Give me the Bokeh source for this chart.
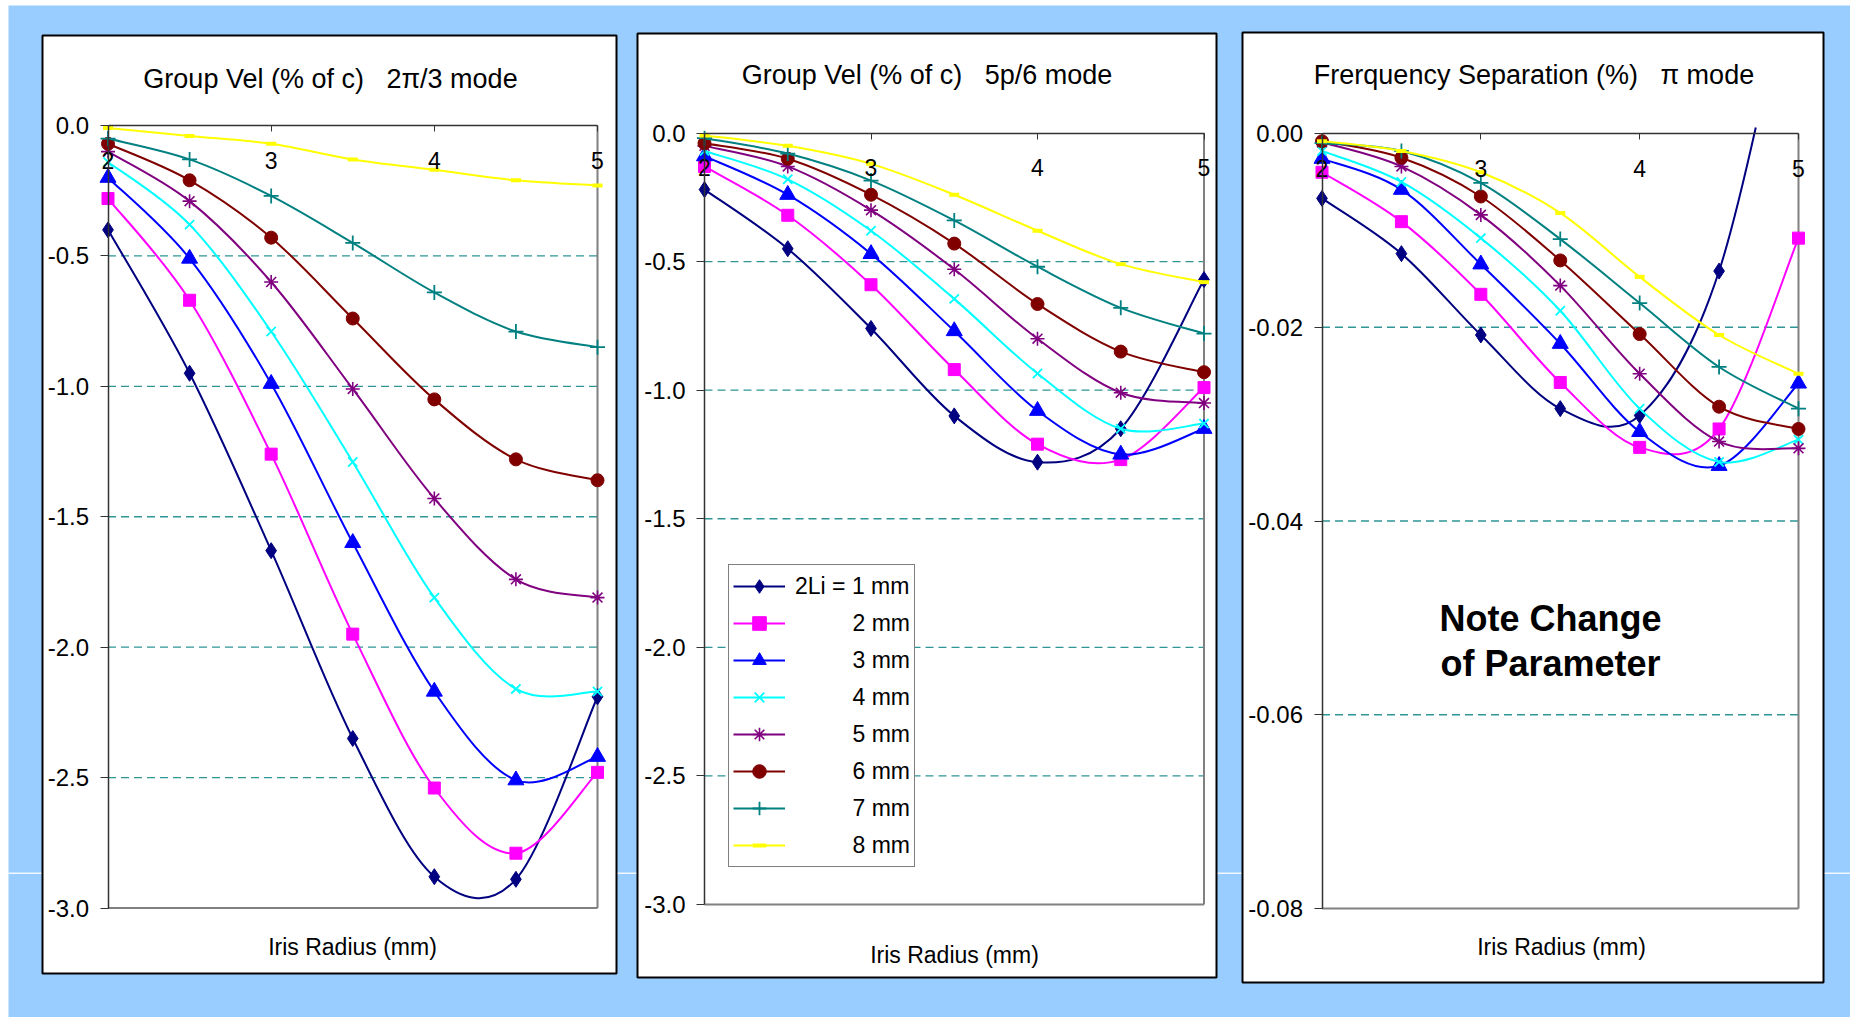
import numpy as np
from bokeh.plotting import figure
from bokeh.models import (Range1d, FixedTicker, PrintfTickFormatter, Label, Legend,
                          LegendItem, LinearAxis, ColumnDataSource)
from bokeh.embed import file_html
from bokeh.resources import INLINE

# ---------------- data ----------------
radius = [2.0, 2.5, 3.0, 3.5, 4.0, 4.5, 5.0]          # Iris radius (mm)
x_ticks = [2, 3, 4, 5]
NB = "\u00a0"
series_labels = ["2Li = 1 mm"] + [NB * 9 + f"{k} mm" for k in range(2, 9)]

# Group velocity (% of c), 2pi/3 mode
gv23_1 = [-0.40, -0.95, -1.63, -2.35, -2.88, -2.89, -2.19]
gv23_2 = [-0.28, -0.67, -1.26, -1.95, -2.54, -2.79, -2.48]
gv23_3 = [-0.20, -0.51, -0.99, -1.60, -2.17, -2.51, -2.42]
gv23_4 = [-0.14, -0.38, -0.79, -1.29, -1.81, -2.16, -2.17]
gv23_5 = [-0.10, -0.29, -0.60, -1.01, -1.43, -1.74, -1.81]
gv23_6 = [-0.07, -0.21, -0.43, -0.74, -1.05, -1.28, -1.36]
gv23_7 = [-0.05, -0.13, -0.27, -0.45, -0.64, -0.79, -0.85]
gv23_8 = [-0.01, -0.04, -0.07, -0.13, -0.17, -0.21, -0.23]

# Group velocity (% of c), 5p/6 mode
gv56_1 = [-0.22, -0.45, -0.76, -1.10, -1.28, -1.15, -0.57]
gv56_2 = [-0.13, -0.32, -0.59, -0.92, -1.21, -1.27, -0.99]
gv56_3 = [-0.09, -0.24, -0.47, -0.77, -1.08, -1.25, -1.15]
gv56_4 = [-0.07, -0.18, -0.38, -0.645, -0.935, -1.15, -1.13]
gv56_5 = [-0.05, -0.13, -0.30, -0.53, -0.80, -1.01, -1.05]
gv56_6 = [-0.04, -0.10, -0.24, -0.43, -0.665, -0.85, -0.93]
gv56_7 = [-0.02, -0.08, -0.185, -0.34, -0.52, -0.68, -0.78]
gv56_8 = [-0.01, -0.05, -0.12, -0.24, -0.38, -0.51, -0.58]

# Frequency separation (%), pi mode
fs_1 = [-0.0067, -0.0124, -0.0208, -0.0284, -0.0291, -0.0142, 0.0210]
fs_2 = [-0.0040, -0.0091, -0.0166, -0.0257, -0.0324, -0.0305, -0.0108]
fs_3 = [-0.0026, -0.0058, -0.0135, -0.0217, -0.0308, -0.0343, -0.0258]
fs_4 = [-0.0018, -0.0050, -0.0108, -0.0183, -0.0284, -0.0339, -0.0316]
fs_5 = [-0.0009, -0.0034, -0.0084, -0.0157, -0.0248, -0.0318, -0.0325]
fs_6 = [-0.0008, -0.0025, -0.0065, -0.0131, -0.0207, -0.0282, -0.0305]
fs_7 = [-0.0010, -0.0018, -0.0051, -0.0109, -0.0175, -0.0241, -0.0284]
fs_8 = [-0.0008, -0.0018, -0.0040, -0.0082, -0.0148, -0.0208, -0.0248]

gv23_ticks = [0.0, -0.5, -1.0, -1.5, -2.0, -2.5, -3.0]
gv56_ticks = [0.0, -0.5, -1.0, -1.5, -2.0, -2.5, -3.0]
fs_ticks = [0.0, -0.02, -0.04, -0.06, -0.08]

# ---------------- styles ----------------
FONT = "Liberation Sans"
BLUE = "#99CCFF"
GRID = "#2F9595"
W, H = 1850, 1017          # canvas size = window (the page has no margin)
OVERSHOOT = 6              # px a curve may run past the top of a plot area

STYLES = [
    dict(color="#000080", markers=[dict(marker="diamond", size=16)]),
    dict(color="#FF00FF", markers=[dict(marker="square", size=12)]),
    dict(color="#0000FF", markers=[dict(marker="triangle", size=16)]),
    dict(color="#00FFFF", markers=[dict(marker="x", size=13, lw=1.8)]),
    dict(color="#800080", markers=[dict(marker="asterisk", size=14, lw=1.6)]),
    dict(color="#800000", markers=[dict(marker="circle", size=13)]),
    dict(color="#008080", markers=[dict(marker="cross", size=15, lw=1.8)]),
    dict(color="#FFFF00", markers=[dict(marker="dash", size=10, lw=4)]),
]


def bezier_controls(x, y):
    x = np.asarray(x, float)
    y = np.asarray(y, float)
    n = len(x)
    i = np.arange(n - 1)
    i1 = i + 1
    im = np.clip(i - 1, 0, n - 1)
    i2 = np.clip(i + 2, 0, n - 1)
    return dict(x0=x[i], y0=y[i], x1=x[i1], y1=y[i1],
                cx0=x[i] + (x[i1] - x[im]) / 6, cy0=y[i] + (y[i1] - y[im]) / 6,
                cx1=x[i1] - (x[i2] - x[i]) / 6, cy1=y[i1] - (y[i2] - y[i]) / 6)


def split_bezier(P, t):
    lerp = lambda a, b: (a[0] + (b[0] - a[0]) * t, a[1] + (b[1] - a[1]) * t)
    p01, p12, p23 = lerp(P[0], P[1]), lerp(P[1], P[2]), lerp(P[2], P[3])
    p012, p123 = lerp(p01, p12), lerp(p12, p23)
    m = lerp(p012, p123)
    return [P[0], p01, p012, m], [m, p123, p23, P[3]]


def clip_top(seg, ycap):
    """Cut the smoothed curve where it leaves the plot area through its top."""
    out = {k: [] for k in seg}
    for j in range(len(seg["x0"])):
        P = [(seg["x0"][j], seg["y0"][j]), (seg["cx0"][j], seg["cy0"][j]),
             (seg["cx1"][j], seg["cy1"][j]), (seg["x1"][j], seg["y1"][j])]
        ys = [q[1] for q in P]
        keep = P
        if max(ys) > ycap:
            a = ys[3] - ys[0] + 3 * (ys[1] - ys[2])
            b = 3 * (ys[0] - 2 * ys[1] + ys[2])
            c = 3 * (ys[1] - ys[0])
            d = ys[0] - ycap
            r = np.roots([a, b, c, d])
            r = sorted(float(v.real) for v in r if abs(v.imag) < 1e-9 and 0 < v.real < 1)
            if ys[0] <= ycap and r:
                keep = split_bezier(P, r[0])[0]
            elif ys[0] > ycap and ys[3] <= ycap and r:
                keep = split_bezier(P, r[-1])[1]
            elif ys[0] > ycap:
                keep = None
        if keep is None:
            continue
        for k, (px, py) in zip([("x0", "y0"), ("cx0", "cy0"), ("cx1", "cy1"), ("x1", "y1")], keep):
            out[k[0]].append(px)
            out[k[1]].append(py)
    return out


# one canvas; its default ranges are canvas pixels (y downwards)
p = figure(width=W, height=H, x_range=Range1d(0, W), y_range=Range1d(H, 0),
           output_backend="svg", toolbar_location=None, x_axis_type=None, y_axis_type=None,
           min_border=0, background_fill_color="white", border_fill_color="white",
           outline_line_color=None)
p.title.visible = False

# slide background and its faint line
p.quad(left=[8], right=[W], top=[5], bottom=[H], fill_color=BLUE, line_color=None)
p.segment(x0=[8], y0=[872.7], x1=[W], y1=[872.7], line_color="#F2F8FF", line_width=1.5)


def add_panel(key, panel_box, axes_box, ylo, yhi, yticks, yfmt, series, title, title_pos,
              xlabel_pos, legend_box=None, note=None):
    x0, y0, x1, y1 = panel_box
    ax0, ay0, ax1, ay1 = axes_box
    p.quad(left=[x0], right=[x1], top=[y0], bottom=[y1], fill_color="white",
           line_color="black", line_width=2)

    xmin, xmax = radius[0], radius[-1]
    kx = (xmax - xmin) / (ax1 - ax0)
    xs = xmin - ax0 * kx
    p.extra_x_ranges[key] = Range1d(xs, xs + W * kx)
    ky = (yhi - ylo) / (ay1 - ay0)
    p.extra_y_ranges[key] = Range1d(ylo - (H - ay1) * ky, yhi + ay0 * ky)
    rn = dict(x_range_name=key, y_range_name=key)
    ycap = yhi + OVERSHOOT * ky

    # dashed horizontal gridlines
    gt = [t for t in yticks if ylo < t < yhi]
    p.segment(x0=[xmin] * len(gt), y0=gt, x1=[xmax] * len(gt), y1=gt, line_color=GRID,
              line_dash="8 5", line_width=1.3, **rn)
    # plot-area right and bottom borders
    p.segment(x0=[xmin, xmax], y0=[ylo, ylo], x1=[xmax, xmax], y1=[ylo, yhi],
              line_color="#808080", line_width=2, **rn)

    items = []
    for vals, st, lab in zip(series, STYLES, series_labels):
        c = st["color"]
        src = ColumnDataSource(clip_top(bezier_controls(radius, vals), ycap))
        rend = [p.bezier(x0="x0", y0="y0", x1="x1", y1="y1", cx0="cx0", cy0="cy0",
                         cx1="cx1", cy1="cy1", source=src, line_color=c, line_width=2, **rn)]
        xv = np.asarray(radius)
        yv = np.asarray(vals)
        inside = yv <= ycap
        for m in st["markers"]:
            rend.append(p.scatter(xv[inside], yv[inside], marker=m["marker"], size=m["size"],
                                  fill_color=c, line_color=c, line_width=m.get("lw", 1), **rn))
        items.append(LegendItem(label=lab, renderers=rend))

    # axes
    xa = LinearAxis(fixed_location=yhi, bounds=(xmin, xmax), ticker=FixedTicker(ticks=x_ticks),
                    formatter=PrintfTickFormatter(format="%d"), **rn)
    xa.major_tick_out = 6
    xa.major_tick_in = 0
    xa.minor_tick_line_color = None
    xa.major_label_standoff = 20
    xa.axis_line_color = "#333333"
    xa.axis_line_width = 1.5
    xa.major_tick_line_color = "#333333"
    xa.major_label_text_font = FONT
    xa.major_label_text_font_size = "23px"
    xa.major_label_text_color = "black"
    p.add_layout(xa, "below")

    ya = LinearAxis(fixed_location=xmin, bounds=(ylo, yhi), ticker=FixedTicker(ticks=yticks),
                    formatter=PrintfTickFormatter(format=yfmt), **rn)
    ya.major_tick_out = 8
    ya.major_tick_in = 0
    ya.minor_tick_line_color = None
    ya.major_label_standoff = 11
    ya.axis_line_color = "#333333"
    ya.axis_line_width = 1.5
    ya.major_tick_line_color = "#333333"
    ya.major_label_text_font = FONT
    ya.major_label_text_font_size = "24px"
    ya.major_label_text_color = "black"
    p.add_layout(ya, "left")

    # title and axis label
    p.add_layout(Label(x=title_pos[0], y=title_pos[1], text=title,
                       text_font=FONT, text_font_size="27px", text_align="center",
                       text_baseline="middle", text_color="black"))
    p.add_layout(Label(x=xlabel_pos[0], y=xlabel_pos[1], text="Iris Radius (mm)",
                       text_font=FONT, text_font_size="23px", text_align="center",
                       text_baseline="middle", text_color="black"))

    if legend_box is not None:
        lx0, ly0, lx1, ly1 = legend_box
        leg = Legend(items=items, location=(lx0, H - ly1), margin=0,
                     border_line_color="black", border_line_width=1,
                     background_fill_color="white", background_fill_alpha=1.0,
                     label_text_font=FONT, label_text_font_size="23px",
                     label_text_color="black", glyph_width=52, glyph_height=34,
                     label_height=34, spacing=3, padding=4, label_standoff=10)
        p.add_layout(leg)

    if note is not None:
        for txt, (nx, ny) in note:
            p.add_layout(Label(x=nx, y=ny, text=txt, text_font=FONT,
                               text_font_size="36px", text_font_style="bold",
                               text_align="center", text_baseline="middle",
                               text_color="black"))


add_panel("p1", panel_box=(42, 35, 616, 973), axes_box=(107.5, 125, 597, 907.5),
          ylo=-3.0, yhi=0.0, yticks=gv23_ticks, yfmt="%.1f",
          series=[gv23_1, gv23_2, gv23_3, gv23_4, gv23_5, gv23_6, gv23_7, gv23_8],
          title="Group Vel (% of c)" + NB * 3 + "2\u03c0/3 mode",
          title_pos=(330, 78), xlabel_pos=(352, 946))

add_panel("p2", panel_box=(637, 33, 1216, 977), axes_box=(704, 132.5, 1203.5, 904),
          ylo=-3.0, yhi=0.0, yticks=gv56_ticks, yfmt="%.1f",
          series=[gv56_1, gv56_2, gv56_3, gv56_4, gv56_5, gv56_6, gv56_7, gv56_8],
          title="Group Vel (% of c)" + NB * 3 + "5p/6 mode",
          title_pos=(926.5, 74), xlabel_pos=(954, 954),
          legend_box=(728, 567, 916, 867))

add_panel("p3", panel_box=(1242, 32, 1823, 982), axes_box=(1321.5, 133, 1798, 908),
          ylo=-0.08, yhi=0.0, yticks=fs_ticks, yfmt="%.2f",
          series=[fs_1, fs_2, fs_3, fs_4, fs_5, fs_6, fs_7, fs_8],
          title="Frerquency Separation (%)" + NB * 3 + "\u03c0 mode",
          title_pos=(1533.5, 74), xlabel_pos=(1561, 946),
          note=[("Note Change", (1550, 618)), ("of Parameter", (1550, 663))])

open("out.html", "w").write(file_html(p, INLINE, title="Group velocity and frequency separation"))
